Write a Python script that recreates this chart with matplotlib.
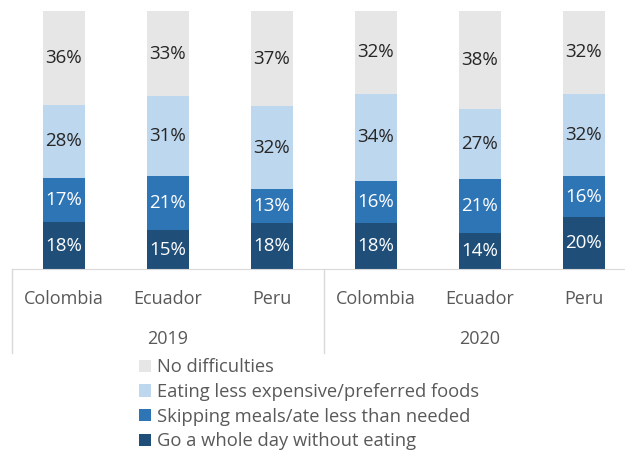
import numpy as np
import matplotlib.pyplot as plt
from matplotlib.patches import Patch

plt.rcParams['font.family'] = ['Open Sans', 'DejaVu Sans']

countries = ['Colombia', 'Ecuador', 'Peru', 'Colombia', 'Ecuador', 'Peru']
years = ['2019', '2020']

# percentages per bar, bottom to top
whole_day = [18, 15, 18, 18, 14, 20]
skipping = [17, 21, 13, 16, 21, 16]
cheaper = [28, 31, 32, 34, 27, 32]
no_diff = [36, 33, 37, 32, 38, 32]

series = [
    ('Go a whole day without eating', whole_day, '#1F4E79', 'white'),
    ('Skipping meals/ate less than needed', skipping, '#2E75B6', 'white'),
    ('Eating less expensive/preferred foods', cheaper, '#BDD7EE', '#262626'),
    ('No difficulties', no_diff, '#E7E6E6', '#262626'),
]

fig = plt.figure(figsize=(6.25, 4.5), dpi=100)
ax = fig.add_axes([12 / 625, 181 / 450, 624 / 625, 258 / 450])

x = np.arange(len(countries))
totals = np.sum([s[1] for s in series], axis=0)
bottom = np.zeros(len(x))
for name, vals, color, tcol in series:
    share = np.array(vals) / totals * 100
    bars = ax.bar(x, share, 0.4, bottom=bottom, color=color, label=name)
    for xi, b, h, v in zip(x, bottom, share, vals):
        ax.text(xi, b + h / 2, f'{v}%', ha='center', va='center',
                fontsize=13.5, color=tcol)
    bottom += share

ax.set_xlim(-0.5, 5.5)
ax.set_ylim(0, 100)
ax.set_yticks([])
ax.set_xticks(x, countries)
ax.tick_params(axis='x', length=0, pad=15, labelsize=13, labelcolor='#595959')
for s in ['top', 'right', 'left']:
    ax.spines[s].set_visible(False)
ax.spines['bottom'].set_color('#D9D9D9')

# group separators and year labels under the axis
line_kw = dict(color='#D9D9D9', lw=1, clip_on=False, transform=ax.transAxes)
for xa in [0, 0.5, 1.0]:
    ax.plot([xa, xa], [0, -84 / 258], **line_kw)
for i, yr in enumerate(years):
    ax.text(0.25 + 0.5 * i, -70 / 258, yr, transform=ax.transAxes,
            ha='center', va='center', fontsize=13, color='#595959')

handles = [Patch(facecolor=c, label=n) for n, v, c, t in series][::-1]
fig.legend(handles=handles, loc='upper left', bbox_to_anchor=(132 / 625, 1 - 351 / 450),
           frameon=False, fontsize=13.2, handlelength=0.65, handleheight=0.65,
           handletextpad=0.3, labelspacing=0.36, labelcolor='#595959',
           borderaxespad=0)

fig.savefig('out.png', dpi=100)
